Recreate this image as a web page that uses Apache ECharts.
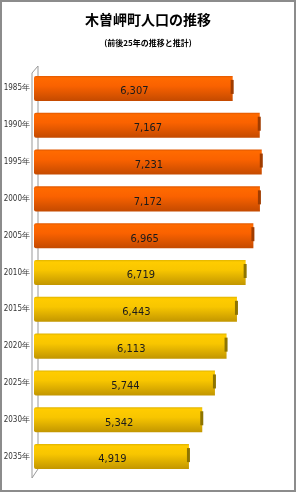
<!DOCTYPE html>
<html><head><meta charset="utf-8">
<script src="https://cdn.jsdelivr.net/npm/echarts@6/dist/echarts.min.js"></script>
<style>html,body{margin:0;padding:0;background:#fff}#c{width:296px;height:492px}</style>
</head><body><div id="c"></div>
<script>
const categories = ['1985年','1990年','1995年','2000年','2005年','2010年','2015年','2020年','2025年','2030年','2035年'];
const population = [6307, 7167, 7231, 7172, 6965, 6719, 6443, 6113, 5744, 5342, 4919];
const isEstimate = [false, false, false, false, false, true, true, true, true, true, true];

const chart = echarts.init(document.getElementById('c'));
const orangeGrad = new echarts.graphic.LinearGradient(0,0,0,1,[
  {offset:0,color:'#E05800'},{offset:0.08,color:'#FF6A00'},{offset:0.4,color:'#FA6200'},{offset:1,color:'#C44A00'}]);
const goldGrad = new echarts.graphic.LinearGradient(0,0,0,1,[
  {offset:0,color:'#E0B400'},{offset:0.08,color:'#FFCC00'},{offset:0.4,color:'#F8C600'},{offset:1,color:'#C29600'}]);

chart.setOption({
  animation:false,
  title:[
    {text:'木曽岬町人口の推移',left:'center',top:8,textStyle:{fontFamily:'Noto Sans CJK JP',fontWeight:'bold',fontSize:14,color:'#000'}},
    {text:'(前後25年の推移と推計)',left:'center',top:34,textStyle:{fontFamily:'Noto Sans CJK JP',fontWeight:'bold',fontSize:8,color:'#000'}}
  ],
  graphic:[
    {type:'rect',shape:{x:1,y:1,width:294,height:490},style:{fill:'none',stroke:'#8c8c8c',lineWidth:2},z:-1},
    {type:'polyline',shape:{points:[[32,478],[32,73],[38,66],[38,469],[32,478]]},style:{fill:'none',stroke:'#999',lineWidth:1},z:-1}
  ],
  grid:{left:35,right:9,top:70,bottom:17},
  xAxis:{type:'value',min:0,max:8000,show:false},
  yAxis:{type:'category',data:categories,inverse:true,
    axisLine:{show:false},axisTick:{show:false},
    axisLabel:{fontSize:8,color:'#333',margin:5,padding:[10,0,0,0],fontFamily:'DejaVu Sans Condensed'}},
  series:[{
    type:'custom',
    data:population.map((v,i)=>[v,i]),
    encode:{x:0,y:1},
    renderItem:function(params,api){
      const idx=api.value(1), v=api.value(0);
      const s=api.coord([0,idx]), e=api.coord([v,idx]);
      const band=api.size([0,1])[1];
      const h=band*0.68;
      const top=s[1]-h/2;
      const est=isEstimate[idx];
      return {type:'group',children:[
        {type:'rect',shape:{x:s[0]-1,y:top,width:e[0]-s[0],height:h,r:[2,0,0,2]},style:{fill:est?goldGrad:orangeGrad}},
        {type:'rect',shape:{x:e[0]-3,y:top+4,width:3,height:h-11},style:{fill:est?'#8E7400':'#A03C00'}},
        {type:'text',style:{text:population[idx].toLocaleString('en-US'),x:(s[0]+e[0])/2,y:s[1]+3,align:'center',verticalAlign:'middle',
          fontFamily:'DejaVu Sans Condensed',fontSize:11,fill:'#1a1a1a'}}
      ]};
    }
  }]
});
</script></body></html>
